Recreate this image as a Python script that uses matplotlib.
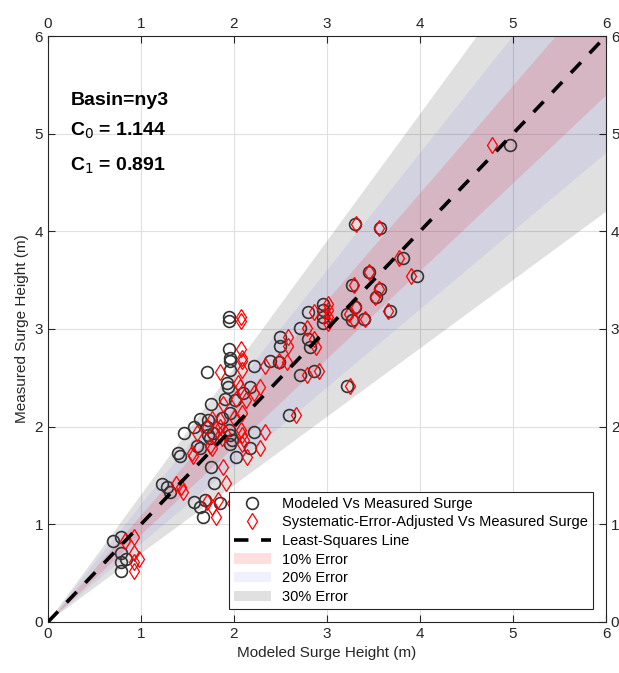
import numpy as np
import matplotlib.pyplot as plt

plt.rcParams['font.family'] = ['Liberation Sans', 'DejaVu Sans']

basin = 'ny3'
c0 = 1.144
c1 = 0.891

# modeled surge height (m)
modeled = [4.97, 3.30, 3.57, 3.82, 3.97, 3.45, 3.27, 3.57, 3.53, 3.68,
           3.30, 3.21, 3.27, 3.40, 2.96, 2.96, 2.96, 2.96, 2.80, 2.71,
           2.80, 2.82, 2.49, 2.49, 2.39, 2.48, 2.22, 2.71, 2.86, 3.22,
           2.17, 2.10, 2.59, 1.95, 1.95, 1.95, 1.96, 1.96, 1.71, 1.96,
           1.92, 1.94, 1.75, 1.90, 2.01, 1.96, 1.87, 1.72, 1.63, 1.57,
           1.46, 1.72, 1.74, 1.95, 1.96, 1.98, 1.96, 1.60, 1.63, 2.22,
           2.17, 2.02, 1.75, 1.40, 1.42, 1.23, 1.28, 1.31, 1.78, 1.57,
           1.69, 1.63, 1.85, 1.67, 0.70, 0.79, 0.79, 0.84, 0.79, 0.79,
           1.71, 1.77]
# measured surge height (m)
measured = [4.88, 4.07, 4.03, 3.73, 3.54, 3.58, 3.45, 3.41, 3.33, 3.18,
            3.23, 3.15, 3.09, 3.10, 3.26, 3.19, 3.12, 3.06, 3.17, 3.01,
            2.90, 2.82, 2.92, 2.83, 2.67, 2.66, 2.62, 2.53, 2.57, 2.42,
            2.41, 2.34, 2.12, 3.12, 3.08, 2.80, 2.70, 2.67, 2.56, 2.58,
            2.45, 2.41, 2.23, 2.28, 2.27, 2.14, 2.09, 2.07, 2.08, 2.00,
            1.93, 1.91, 1.88, 1.97, 1.91, 1.86, 1.82, 1.80, 1.78, 1.95,
            1.78, 1.69, 1.59, 1.73, 1.70, 1.41, 1.38, 1.33, 1.42, 1.23,
            1.25, 1.18, 1.22, 1.07, 0.83, 0.87, 0.71, 0.65, 0.61, 0.52,
            2.00, 1.94]

modeled = np.array(modeled)
measured = np.array(measured)
# systematic-error adjustment
adjusted = c0 * modeled ** c1

fig = plt.figure(figsize=(6.19, 6.73), dpi=100)
ax = fig.add_axes([0.0775, 0.0758, 0.9015, 0.8707])

xx = np.linspace(0, 6, 50)
ax.fill_between(xx, 0.7 * xx, 1.3 * xx, color='k', alpha=0.12, lw=0, label='30% Error', zorder=1)
ax.fill_between(xx, 0.8 * xx, 1.2 * xx, color='b', alpha=0.06, lw=0, label='20% Error', zorder=1)
ax.fill_between(xx, 0.9 * xx, 1.1 * xx, color='r', alpha=0.13, lw=0, label='10% Error', zorder=1)

ax.plot(modeled, measured, 'o', mfc='none', mec=(0.2, 0.2, 0.2), ms=8.5, mew=1.2,
        label='Modeled Vs Measured Surge', zorder=3)
ax.plot(adjusted, measured, 'd', mfc='none', mec='r', ms=8, mew=0.9,
        label='Systematic-Error-Adjusted Vs Measured Surge', zorder=3)
ax.plot([0, 6], [0, 6], '--', color='k', lw=2.6, dashes=(4, 3.5),
        label='Least-Squares Line', zorder=4)

ax.set_xlim(0, 6)
ax.set_ylim(0, 6)
ax.set_xticks(range(7))
ax.set_yticks(range(7))
ax.grid(True, color=(0.88, 0.88, 0.88), lw=0.8)
ax.set_axisbelow(True)
ax.tick_params(direction='in', top=True, right=True, labeltop=True, labelright=True,
               labelsize=11, colors=(0.15, 0.15, 0.15), length=5)
for s in ax.spines.values():
    s.set_color((0.15, 0.15, 0.15))
ax.set_xlabel('Modeled Surge Height (m)', fontsize=11, color=(0.15, 0.15, 0.15))
ax.set_ylabel('Measured Surge Height (m)', fontsize=11, color=(0.15, 0.15, 0.15))

ax.text(0.24, 5.34, 'Basin=' + basin, fontsize=14, fontweight='bold', va='center')
ax.text(0.24, 5.03, 'C$_0$ = %.3f' % c0, fontsize=14, fontweight='bold', va='center')
ax.text(0.24, 4.67, 'C$_1$ = %.3f' % c1, fontsize=14, fontweight='bold', va='center')

h, l = ax.get_legend_handles_labels()
order = [3, 4, 5, 2, 1, 0]
leg = ax.legend([h[i] for i in order], [l[i] for i in order], loc='lower right',
                bbox_to_anchor=(0.977, 0.022), fontsize=10.5, fancybox=False,
                framealpha=1, edgecolor=(0.15, 0.15, 0.15), borderaxespad=0,
                handlelength=2.5, labelspacing=0.32, borderpad=0.35)
leg.get_frame().set_linewidth(0.8)

fig.savefig('out.png', dpi=100)
